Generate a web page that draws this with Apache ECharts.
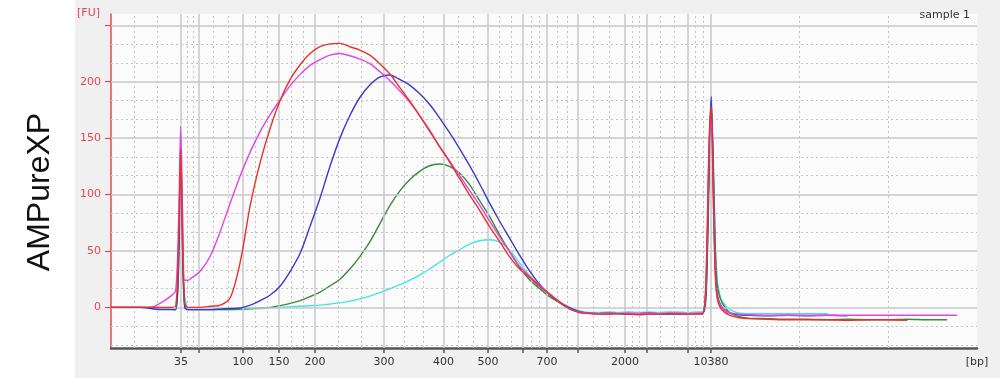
<!DOCTYPE html>
<html><head><meta charset="utf-8">
<script src="https://cdn.jsdelivr.net/npm/echarts@6/dist/echarts.min.js"></script>
<style>html,body{margin:0;padding:0;background:#fff}#c{width:1000px;height:378px}</style>
</head><body><div id="c"></div>
<script>
// migration time axis (s)
const TIME = [40,41,42,43,44,45,46,46.5,46.8,47,47.2,47.4,47.7,
  48,49,50,51,52,53,54,55,56,57,58,59,60,61,62,63,64,65,66,67,68,69,70,71,72,73,74,75,76,77,78,79,80,81,82,83,84,85,86,87,88,
  89,90,91,92,93,94,95,96,97,98,99,
  99.4,99.7,99.9,100.1,100.3,100.5,100.7,100.9,101.2,101.6,102.2,103,
  104,106,108,110,112,114,116,118,120,122,124,125,127];

const RED = [0,0,0,0,0,0,0, 1,60,140,60,4,0,
  0,0,1,2,9,41,91,129,159,183.5,202,215,225,231,233.5,234,231,228,223.5,216,207,195,183,170,157,142.5,129,114.5,100,86.5,72,59,45.5,34.5,27,19,12,5,-1,-4.5,-5.5,
  -6,-6,-5.5,-6,-6.5,-6,-6,-5.5,-6,-6,-6,
  -6,10,70,150,178,100,30,8,0,-4,-7,-9,
  -10,-10.5,-11,-11,-11,-11.5,-11,-11,-11.5,null,null,null,null];

const MAGENTA = [0,0,0,0,0,4,10, 15,80,160,80,24,24,
  25.5,32.5,46,68,93,117,138,156,171,184,196.5,206.5,214.5,219.5,223.5,225,223,220,216,209,201,192,182,170,156,143,130,117,104,91,77,63,50,37,28,20,12.5,5.5,-1,-4,-5,
  -5.5,-5,-5.5,-5,-5.5,-5,-5.5,-5,-5,-5.5,-5,
  -5,8,65,145,172,105,35,10,2,-2,-5,-6,
  -6.5,-7,-7,-7,-7,-7,-7,-7,-7,-7,-7,-7,null];

const BLUE = [0,0,0,0,-1,-2,-2, -2,50,145,50,0,-2,
  -2,-2,-2,-1.5,-1,-0.5,2,6,11,19,32,48,72,97,125,150,170,186,197,204,206,202,197,189.5,180,168,155,141,126,110,93,77,62,47,33,21,12,5,0,-3.5,-5,
  -5.5,-5,-5.5,-6,-5.5,-5,-5.5,-6,-5.5,-5.5,-5.5,
  -5.5,5,50,140,187,120,40,12,3,-2,-5,-6.5,
  -7,-7.5,-7,-7.5,-7,-7.5,null,null,null,null,null,null,null];

const GREEN = [0,0,0,0,0,-1,-1.5, -2,40,125,45,2,-2,
  -2,-2,-2,-2,-2,-1.5,-1,-0.5,0,1.5,3.5,6,9.5,13.5,19,25,34,45,58,74,90,103,113,120.5,125.5,127,125,119,109,95,81,65,50,36,25,17,10,4.5,-1,-4,-5,
  -5.5,-6,-5.5,-6,-5.5,-6,-6,-5.5,-6,-6,-5.5,
  -5.5,0,40,120,180,130,55,20,8,1,-5,-8,
  -9.5,-10,-10.5,-10.5,-11,-10.5,-11,-11,-10.5,-11,-11,null,null];

const CYAN = [0,0,0,0,0,-1,-1.5, -2,35,110,40,10,-1,
  -2,-2,-2,-2,-2,-2,-1.5,-1,-0.5,0,0.5,1,1.5,2,3,4,5.5,7.5,10,13,16.5,20,24,28.5,34,40,46,51,56,59,60,58,51,40,28.5,18,10,5,0.5,-3,-4.5,
  -4.5,-4,-4.5,-4,-4.5,-4,-4.5,-4,-4,-4.5,-4,
  -4,3,45,130,170,135,60,25,10,3,-2,-5,
  -5.5,-5.5,-5.5,-5.5,-5.5,null,null,null,null,null,null,null,null];

// ladder: migration time (s) of each size standard, and its size in bp
const LADDER_TIME = [47.03,48.84,53.26,56.88,60.49,67.43,73.40,77.87,81.39,83.80,86.87,91.64,93.85,97.97,100.28];
const LADDER_BP   = [35,50,100,150,200,300,400,500,600,700,1000,2000,3000,7000,10380];
const LABELED_BP  = [35,100,150,200,300,400,500,700,2000,10380];
const X_MIN = 40, X_MAX = 127;
const Y_MIN = -36, Y_MAX = 260;
const Y_TICKS = [0,50,100,150,200,250];
const Y_LABELS = [0,50,100,150,200];

const labeledTimes = LABELED_BP.map(b => LADDER_TIME[LADDER_BP.indexOf(b)]).concat([X_MAX]);
function xLabel(v) {
  if (Math.abs(v - X_MAX) < 1e-6) return '[bp]';
  for (let i = 0; i < LADDER_TIME.length; i++) if (Math.abs(LADDER_TIME[i] - v) < 1e-6) return String(LADDER_BP[i]);
  return '';
}

// grid lines
const bounds = [X_MIN].concat(LADDER_TIME, [X_MAX]);
const vMinor = [];
for (let i = 0; i < bounds.length - 1; i++) {
  const a = bounds[i], b = bounds[i + 1];
  vMinor.push(a + (b - a) / 3, a + 2 * (b - a) / 3);
}
const hMinor = [];
for (let k = -2; k < 15; k++) { if (k % 3 !== 0) hMinor.push(k * 50 / 3); }

const solid = {color: '#c6c8cc', width: 1.5, type: 'solid'};
const dotted = {color: '#c2c2c2', width: 1, type: [2, 3]};
const gridLines = []
  .concat(vMinor.map(v => ({xAxis: v, lineStyle: dotted})))
  .concat(hMinor.map(v => ({yAxis: v, lineStyle: dotted})))
  .concat(LADDER_TIME.map(v => ({xAxis: v, lineStyle: solid})))
  .concat(Y_TICKS.map(v => ({yAxis: v, lineStyle: solid})));

function mk(name, color, vals, z) {
  return {
    name, type: 'line', z, showSymbol: false, symbol: 'none', smooth: 0.3,
    lineStyle: {color, width: 1.4}, itemStyle: {color},
    data: TIME.map((t, i) => [t, vals[i]]).filter(p => p[1] !== null),
    animation: false, silent: true
  };
}

const chart = echarts.init(document.getElementById('c'), null, {renderer: 'canvas'});
chart.setOption({
  backgroundColor: '#ffffff',
  animation: false,
  title: {text: 'sample 1', right: 25, top: 5,
    textStyle: {fontSize: 11, fontWeight: 'normal', color: '#333', fontFamily: 'DejaVu Sans'}},
  graphic: [
    {type: 'rect', z: -100, silent: true, shape: {x: 75, y: 0, width: 925, height: 378}, style: {fill: '#f0f0f0'}},
    {type: 'text', z: 10, x: 100, y: 13, style: {text: '[FU]', fill: '#e8474f', font: '11px "DejaVu Sans"', align: 'right', verticalAlign: 'middle'}},
    {type: 'text', z: 10, x: 40, y: 192, rotation: Math.PI / 2,
      style: {text: 'AMPureXP', fill: '#111', font: '500 32px "Liberation Sans", Arial, sans-serif', align: 'center', verticalAlign: 'middle'}}
  ],
  grid: {left: 111, right: 23, top: 14, bottom: 30, show: true, backgroundColor: '#fbfbfb', borderWidth: 0},
  xAxis: {
    type: 'value', min: X_MIN, max: X_MAX,
    axisLine: {show: true, onZero: false, lineStyle: {color: '#555', width: 2.5}},
    axisTick: {show: true, customValues: LADDER_TIME, length: 5, lineStyle: {color: '#555', width: 1.5}},
    axisLabel: {show: true, customValues: labeledTimes, formatter: xLabel, margin: 9,
      fontSize: 11, color: '#333', fontFamily: 'DejaVu Sans'},
    splitLine: {show: false}
  },
  yAxis: {
    type: 'value', min: Y_MIN, max: Y_MAX,
    axisLine: {show: true, onZero: false, lineStyle: {color: '#e8474f', width: 1.5}},
    axisTick: {show: true, customValues: Y_TICKS, length: 6, lineStyle: {color: '#e8474f', width: 1.2}},
    axisLabel: {show: true, customValues: Y_LABELS, margin: 10, fontSize: 11, color: '#e8474f', fontFamily: 'DejaVu Sans'},
    splitLine: {show: false}
  },
  series: [
    {type: 'line', z: 1, data: [[X_MIN, 0]], symbol: 'none', lineStyle: {opacity: 0}, silent: true,
      markLine: {silent: true, symbol: ['none', 'none'], label: {show: false}, animation: false, data: gridLines}},
    mk('cyan', '#3ee6e6', CYAN, 3),
    mk('green', '#3a8a3a', GREEN, 4),
    mk('blue', '#3b3bc8', BLUE, 5),
    mk('magenta', '#e046e0', MAGENTA, 6),
    mk('red', '#e6322a', RED, 7)
  ]
});
</script></body></html>
